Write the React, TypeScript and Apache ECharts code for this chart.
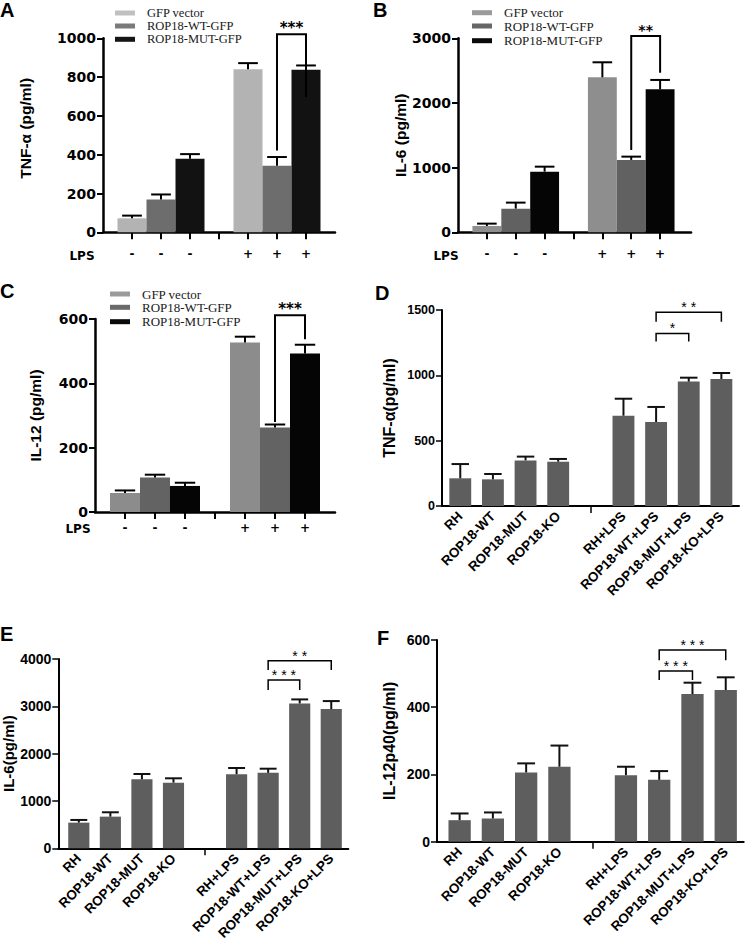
import React, { useEffect, useRef } from 'react';
import * as echarts from 'echarts';

// ---------- Data: panels A–C ----------
const groupNames = ['GFP vector', 'ROP18-WT-GFP', 'ROP18-MUT-GFP'];
const lpsMarks = ['-', '-', '-', '', '+', '+', '+'];
const tnfMean = [72, 169, 379, null, 841, 343, 838];
const tnfErr = [86, 195, 403, null, 872, 388, 860];
const il6Mean = [98, 366, 938, null, 2397, 1119, 2211];
const il6Err = [134, 459, 1015, null, 2629, 1170, 2356];
const il12Mean = [59, 107, 81, null, 527, 263, 493];
const il12Err = [67, 116, 91, null, 545, 272, 520];
// bracket: [fromPos, toPos, leftBottom, top, rightBottom]
const tnfBracket = [[6, 7, 422, 1021, 698]];
const tnfStars = ['***'];
const il6Bracket = [[6, 7, 1273, 3036, 2469]];
const il6Stars = ['**'];
const il12Bracket = [[6, 7, 280, 612, 537]];
const il12Stars = ['***'];

// ---------- Data: panels D–F ----------
const strains = ['RH', 'ROP18-WT', 'ROP18-MUT', 'ROP18-KO', '', 'RH+LPS', 'ROP18-WT+LPS', 'ROP18-MUT+LPS', 'ROP18-KO+LPS'];
const dTnfMean = [212, 204, 349, 339, null, 691, 643, 952, 972];
const dTnfErr = [321, 245, 378, 360, null, 821, 758, 982, 1018];
const eIl6Mean = [542, 669, 1458, 1387, null, 1566, 1594, 3061, 2941];
const eIl6Err = [599, 761, 1570, 1479, null, 1697, 1682, 3146, 3111];
const fIl12Mean = [64, 69, 206, 223, null, 198, 184, 439, 451];
const fIl12Err = [84, 87, 233, 286, null, 223, 210, 473, 489];
const dBrackets = [[7, 8, 1258, 1321, 1258], [7, 9, 1411, 1482, 1411]];
const dStars = ['*', '* *'];
const eBrackets = [[7, 8, 3344, 3556, 3344], [7, 9, 3767, 3964, 3767]];
const eStars = ['* * *', '* *'];
const fBrackets = [[7, 8, 481, 508, 481], [7, 9, 540, 570, 540]];
const fStars = ['* * *', '* * *'];

const SANS = '"Liberation Sans", Arial, sans-serif';
const DEJAVU = '"DejaVu Sans", sans-serif';
const SERIF = '"Liberation Serif", "Times New Roman", serif';

const plain = (v: number) => String(v);

const makeBarRender = (color: string, wf: number, cf: number, lw: number, errColor: string) =>
  (params: any, api: any) => {
    const x = api.value(0), m = api.value(1), e = api.value(2);
    const p0 = api.coord([x, 0]);
    const pm = api.coord([x, m]);
    const pe = api.coord([x, e]);
    const unit = api.size([1, 0])[0];
    const bw = unit * wf, cw = bw * cf;
    return {
      type: 'group',
      children: [
        { type: 'rect', shape: { x: p0[0] - bw / 2, y: pm[1], width: bw, height: p0[1] - pm[1] }, style: { fill: color } },
        { type: 'line', shape: { x1: pm[0], y1: pm[1], x2: pe[0], y2: pe[1] }, style: { stroke: errColor, lineWidth: lw } },
        { type: 'line', shape: { x1: pe[0] - cw / 2, y1: pe[1], x2: pe[0] + cw / 2, y2: pe[1] }, style: { stroke: errColor, lineWidth: lw } },
      ],
    };
  };

const makeBracketRender = (labels: string[], lw: number, font: string, offset: number) =>
  (params: any, api: any) => {
    const x1 = api.value(0), x2 = api.value(1), b1 = api.value(2), t = api.value(3), b2 = api.value(4);
    const a = api.coord([x1, b1]);
    const b = api.coord([x1, t]);
    const c = api.coord([x2, t]);
    const d = api.coord([x2, b2]);
    return {
      type: 'group',
      children: [
        { type: 'polyline', shape: { points: [a, b, c, d] }, style: { stroke: '#000', lineWidth: lw, fill: 'none' } },
        {
          type: 'text', x: (b[0] + c[0]) / 2, y: b[1] - offset,
          style: { text: labels[params.dataIndex], font, fill: '#000', align: 'center', verticalAlign: 'middle' },
        },
      ],
    };
  };

function buildOption() {
  const grids: any[] = [];
  const xAxes: any[] = [];
  const yAxes: any[] = [];
  const series: any[] = [];
  const graphics: any[] = [];

  const topPanels = [
    {
      letter: 'A', lx: 0, ly: 0,
      grid: { left: 103, top: 38.3, width: 232, height: 194 },
      ymax: 1000, step: 200, yName: 'TNF-α (pg/ml)', nameGap: 70, namePad: [0, 0, 0, 14],
      means: tnfMean, errs: tnfErr, brackets: tnfBracket, stars: tnfStars, starFont: `bold 15px ${DEJAVU}`,
      colors: ['#b3b3b3', '#6d6d6d', '#121212'], legendColors: ['#c0c0c0', '#7a7a7a', '#151515'],
      legend: { x: 115, ys: [13, 26, 39.3], tx: 147, size: 12.5 },
      lps: { x: 82, y: 256 }, labelMargin: 16, xmax: 8,
    },
    {
      letter: 'B', lx: 373, ly: 0,
      grid: { left: 458, top: 38.3, width: 233, height: 194 },
      ymax: 3000, step: 1000, yName: 'IL-6 (pg/ml)', nameGap: 49, namePad: [0, 0, 0, 0],
      means: il6Mean, errs: il6Err, brackets: il6Bracket, stars: il6Stars, starFont: `bold 14px ${DEJAVU}`,
      colors: ['#8e8e8e', '#616161', '#050505'], legendColors: ['#9a9a9a', '#676767', '#0a0a0a'],
      legend: { x: 472, ys: [12.7, 26, 40.7], tx: 504, size: 13 },
      lps: { x: 446, y: 256 }, labelMargin: 16, xmax: 8.07,
    },
    {
      letter: 'C', lx: 0, ly: 281,
      grid: { left: 95, top: 319, width: 240, height: 193 },
      ymax: 600, step: 200, yName: 'IL-12 (pg/ml)', nameGap: 52, namePad: [0, 0, 0, 0],
      means: il12Mean, errs: il12Err, brackets: il12Bracket, stars: il12Stars, starFont: `bold 15px ${DEJAVU}`,
      colors: ['#8c8c8c', '#636363', '#050505'], legendColors: ['#9a9a9a', '#6a6a6a', '#0a0a0a'],
      legend: { x: 110, ys: [294, 307.3, 321.7], tx: 142, size: 13 },
      lps: { x: 78, y: 529 }, labelMargin: 10, xmax: 8,
    },
  ];

  const bottomPanels = [
    {
      letter: 'D', lx: 375, ly: 283,
      grid: { left: 442, top: 310, width: 297, height: 196 },
      ymax: 1500, step: 500, yName: 'TNF-α(pg/ml)', nameGap: 45, tickSize: 12.5, nameSize: 16,
      means: dTnfMean, errs: dTnfErr, brackets: dBrackets, stars: dStars,
      xmin: 0.44, xmax: 9.54,
    },
    {
      letter: 'E', lx: 0, ly: 624,
      grid: { left: 58.3, top: 659, width: 290, height: 189.3 },
      ymax: 4000, step: 1000, yName: 'IL-6(pg/ml)', nameGap: 38, tickSize: 14, nameSize: 15,
      means: eIl6Mean, errs: eIl6Err, brackets: eBrackets, stars: eStars,
      xmin: 0.35, xmax: 9.54,
    },
    {
      letter: 'F', lx: 377, ly: 628,
      grid: { left: 437, top: 640, width: 306.7, height: 201.7 },
      ymax: 600, step: 200, yName: 'IL-12p40(pg/ml)', nameGap: 40, tickSize: 14, nameSize: 16,
      means: fIl12Mean, errs: fIl12Err, brackets: fBrackets, stars: fStars,
      xmin: 0.32, xmax: 9.54,
    },
  ];

  const letter = (t: string, x: number, y: number) => ({
    type: 'text', x, y,
    style: { text: t, font: `bold 20px ${SANS}`, fill: '#000', align: 'left', verticalAlign: 'top' },
  });

  topPanels.forEach((p) => {
    const gi = grids.length;
    grids.push({ ...p.grid, containLabel: false, outerBoundsMode: 'none' });
    xAxes.push({
      type: 'value', gridIndex: gi, min: 0, max: p.xmax,
      axisLine: { show: true, onZero: false, lineStyle: { color: '#000', width: 2.5 } },
      axisTick: { show: true, customValues: [1, 2, 3, 4, 5, 6, 7], length: 7, lineStyle: { color: '#000', width: 2 } },
      axisLabel: {
        customValues: [1, 2, 3, 4, 5, 6, 7],
        formatter: (v: number) => lpsMarks[Math.round(v) - 1] ?? '',
        margin: p.labelMargin, color: '#000', fontFamily: DEJAVU, fontWeight: 'bold', fontSize: 12,
      },
      splitLine: { show: false },
    });
    yAxes.push({
      type: 'value', gridIndex: gi, min: 0, max: p.ymax, interval: p.step,
      axisLine: { show: true, lineStyle: { color: '#000', width: 2.5 } },
      axisTick: { show: true, length: 6, lineStyle: { color: '#000', width: 2 } },
      axisLabel: { formatter: plain, margin: 7, color: '#000', fontFamily: DEJAVU, fontWeight: 'bold', fontSize: 14 },
      splitLine: { show: false },
      name: p.yName, nameLocation: 'middle', nameGap: p.nameGap,
      nameTextStyle: { color: '#000', fontFamily: SANS, fontWeight: 'bold', fontSize: 15.5, padding: p.namePad },
    });
    groupNames.forEach((gname, k) => {
      const idx = [k, k + 4];
      series.push({
        type: 'custom', name: gname, xAxisIndex: gi, yAxisIndex: gi, clip: false, silent: true,
        itemStyle: { color: p.colors[k] },
        encode: { x: 0, y: [1, 2] },
        data: idx.map((i) => [i + 1, p.means[i], p.errs[i]]),
        renderItem: makeBarRender(p.colors[k], 1, 0.68, 2, '#000'),
      });
    });
    series.push({
      type: 'custom', xAxisIndex: gi, yAxisIndex: gi, clip: false, silent: true, z: 5,
      encode: { x: [0, 1], y: [2, 3, 4] },
      data: p.brackets,
      renderItem: makeBracketRender(p.stars, 2, p.starFont, 6),
    });
    // legend
    groupNames.forEach((gname, k) => {
      graphics.push({
        type: 'rect', shape: { x: p.legend.x, y: p.legend.ys[k] - 2.5, width: 20, height: 5 },
        style: { fill: p.legendColors[k] },
      });
      graphics.push({
        type: 'text', x: p.legend.tx, y: p.legend.ys[k],
        style: { text: gname, font: `${p.legend.size}px ${SERIF}`, fill: '#1a1a1a', align: 'left', verticalAlign: 'middle' },
      });
    });
    graphics.push({
      type: 'text', x: p.lps.x, y: p.lps.y,
      style: { text: 'LPS', font: `bold 12px ${DEJAVU}`, fill: '#000', align: 'center', verticalAlign: 'middle' },
    });
    graphics.push(letter(p.letter, p.lx, p.ly));
  });

  bottomPanels.forEach((p) => {
    const gi = grids.length;
    grids.push({ ...p.grid, containLabel: false, outerBoundsMode: 'none' });
    const labelPos = strains.map((s, i) => (s ? i + 1 : null)).filter((v) => v != null);
    xAxes.push({
      type: 'value', gridIndex: gi, min: p.xmin, max: p.xmax,
      axisLine: { show: true, onZero: false, lineStyle: { color: '#000', width: 2 } },
      axisTick: { show: true, customValues: [5], length: 7, lineStyle: { color: '#000', width: 1.5 } },
      axisLabel: {
        customValues: labelPos, rotate: 45,
        formatter: (v: number) => strains[Math.round(v) - 1] ?? '',
        margin: 8, color: '#000', fontFamily: SANS, fontWeight: 'bold', fontSize: 13.5,
      },
      splitLine: { show: false },
    });
    yAxes.push({
      type: 'value', gridIndex: gi, min: 0, max: p.ymax, interval: p.step,
      axisLine: { show: true, lineStyle: { color: '#000', width: 2 } },
      axisTick: { show: true, length: 6, lineStyle: { color: '#000', width: 1.5 } },
      axisLabel: { formatter: plain, margin: 7, color: '#000', fontFamily: SANS, fontWeight: 'bold', fontSize: p.tickSize },
      splitLine: { show: false },
      name: p.yName, nameLocation: 'middle', nameGap: p.nameGap,
      nameTextStyle: { color: '#000', fontFamily: SANS, fontWeight: 'bold', fontSize: p.nameSize },
    });
    series.push({
      type: 'custom', xAxisIndex: gi, yAxisIndex: gi, clip: false, silent: true,
      itemStyle: { color: '#5e5e5e' },
      encode: { x: 0, y: [1, 2] },
      data: strains.map((s, i) => [i + 1, p.means[i], p.errs[i]]).filter((d) => d[1] != null),
      renderItem: makeBarRender('#5e5e5e', 0.67, 0.8, 2, '#111'),
    });
    series.push({
      type: 'custom', xAxisIndex: gi, yAxisIndex: gi, clip: false, silent: true, z: 5,
      encode: { x: [0, 1], y: [2, 3, 4] },
      data: p.brackets,
      renderItem: makeBracketRender(p.stars, 1.5, `14px ${SANS}`, 5),
    });
    graphics.push(letter(p.letter, p.lx, p.ly));
  });

  return {
    animation: false,
    backgroundColor: '#fff',
    grid: grids,
    xAxis: xAxes,
    yAxis: yAxes,
    series,
    graphic: graphics,
  };
}

export default function App() {
  const ref = useRef<HTMLDivElement>(null);
  useEffect(() => {
    document.body.style.margin = '0';
    const chart = echarts.init(ref.current!, null, { renderer: 'svg' });
    chart.setOption(buildOption() as any);
    return () => chart.dispose();
  }, []);
  return <div ref={ref} style={{ width: 745, height: 942 }} />;
}
